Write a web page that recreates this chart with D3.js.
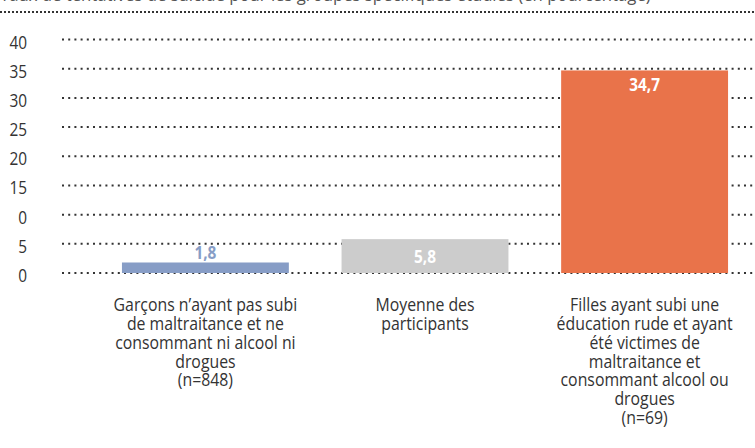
<!DOCTYPE html>
<html>
<head>
<meta charset="utf-8">
<script src="https://cdn.jsdelivr.net/npm/d3@7"></script>
<style>
  body { margin: 0; background: #fff; }
  svg { display: block; }
</style>
</head>
<body>
<svg id="fig"></svg>
<script>
// data
const categories = [
  ['Garçons n\u2019ayant pas subi', 'de maltraitance et ne', 'consommant ni alcool ni', 'drogues', '(n=848)'],
  ['Moyenne des', 'participants'],
  ['Filles ayant subi une', 'éducation rude et ayant', 'été victimes de', 'maltraitance et', 'consommant alcool ou', 'drogues', '(n=69)']
];
const values = [1.8, 5.8, 34.7];
const valueLabels = ['1,8', '5,8', '34,7'];
const tickValues = [0, 5, 10, 15, 20, 25, 30, 35, 40];
const tickLabels = ['0', '5', '0', '15', '20', '25', '30', '35', '40'];
const title = 'Taux de tentatives de suicide pour les groupes spécifiques étudiés (en pourcentage)';

const colors = ['#879dc6', '#cccccc', '#e9734a'];
const labelColors = ['#879dc6', '#ffffff', '#ffffff'];

const width = 755, height = 448;
const font = '"Open Sans", sans-serif';
const squeeze = 0.88; // condensed look

const svg = d3.select('#fig')
    .attr('width', width)
    .attr('height', height);

// title, cut off at the top edge
svg.append('text')
    .attr('transform', `translate(0,1) scale(${squeeze},1)`)
    .attr('font-family', font)
    .attr('font-size', 19)
    .attr('fill', '#555')
    .text(title);

svg.append('line')
    .attr('x1', 0).attr('x2', width)
    .attr('y1', 12).attr('y2', 12)
    .attr('stroke', '#333')
    .attr('stroke-width', 2)
    .attr('stroke-dasharray', '2,2');

const yScale = d3.scaleLinear()
    .domain([0, 40])
    .range([273, 39.5]);

const xScale = d3.scaleBand()
    .domain(d3.range(values.length))
    .range([95.6, 754.4])
    .paddingInner(0.24)
    .paddingOuter(0.12);

// grid lines
svg.append('g').selectAll('line')
    .data(tickValues)
    .enter().append('line')
    .attr('x1', 62).attr('x2', width)
    .attr('y1', d => yScale(d)).attr('y2', d => yScale(d))
    .attr('stroke', '#333')
    .attr('stroke-width', 2)
    .attr('stroke-dasharray', '2,4.2');

// y tick labels
svg.append('g').selectAll('text')
    .data(tickValues)
    .enter().append('text')
    .attr('transform', d => `translate(27,${yScale(d) + 9}) scale(${squeeze},1)`)
    .attr('text-anchor', 'end')
    .attr('font-family', font)
    .attr('font-size', 17.5)
    .attr('fill', '#333')
    .text((d, i) => tickLabels[i]);

// bars
svg.append('g').selectAll('rect')
    .data(values)
    .enter().append('rect')
    .attr('x', (d, i) => xScale(i))
    .attr('y', d => yScale(d))
    .attr('width', xScale.bandwidth())
    .attr('height', d => yScale(0) - yScale(d))
    .attr('fill', (d, i) => colors[i]);

// value labels
svg.append('g').selectAll('text')
    .data(values)
    .enter().append('text')
    .attr('transform', (d, i) => {
        const cx = xScale(i) + xScale.bandwidth() / 2;
        let y;
        if (i === 0) y = yScale(d) - 3;
        else if (i === 1) y = yScale(0) - 10;
        else y = yScale(d) + 21;
        return `translate(${cx},${y}) scale(${squeeze},1)`;
    })
    .attr('text-anchor', 'middle')
    .attr('font-family', font)
    .attr('font-weight', 'bold')
    .attr('font-size', 17.5)
    .attr('fill', (d, i) => labelColors[i])
    .text((d, i) => valueLabels[i]);

// category labels
const cat = svg.append('g').selectAll('text')
    .data(categories)
    .enter().append('text')
    .attr('transform', (d, i) => `translate(${xScale(i) + xScale.bandwidth() / 2},0) scale(${squeeze},1)`)
    .attr('text-anchor', 'middle')
    .attr('font-family', font)
    .attr('font-size', 18)
    .attr('fill', '#333');

cat.selectAll('tspan')
    .data(d => d)
    .enter().append('tspan')
    .attr('x', 0)
    .attr('y', (d, j) => 311.5 + j * 18.7)
    .text(d => d);
</script>
</body>
</html>
